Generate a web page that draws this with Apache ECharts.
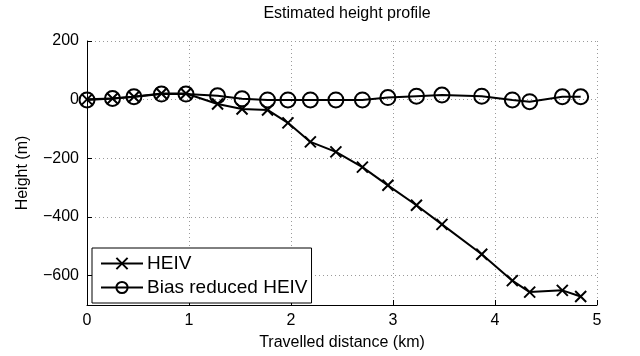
<!DOCTYPE html>
<html>
<head>
<meta charset="utf-8">
<script src="https://cdn.jsdelivr.net/npm/echarts@6/dist/echarts.min.js"></script>
<style>
  html, body { margin: 0; padding: 0; background: #fff; }
  #chart { width: 640px; height: 356px; }
</style>
</head>
<body>
<div id="chart"></div>
<script>
// travelled distance (km), shared by both estimates
const distance = [0, 0.25, 0.46, 0.73, 0.97, 1.28, 1.52, 1.77, 1.97, 2.19, 2.44, 2.70, 2.95, 3.23, 3.48, 3.87, 4.17, 4.34, 4.66, 4.84]
const heiv = [1, 4, 10, 21, 21, -15, -32, -35, -79, -144, -178, -230, -292, -360, -425, -527, -617, -656, -650, -671]
const biasReduced = [-1, 4, 10, 19, 19, 13, 3, -1, -1, -1, -1, -1, 7, 12, 16, 12, -1, -7, 10, 10]
const yTicks = [-600, -400, -200, 0, 200]
const xTicks = [0, 1, 2, 3, 4, 5]

const font = 'Liberation Sans, Arial, sans-serif'
const minus = v => String(v).replace('-', '\u2212')
const pairs = ys => distance.map((x, i) => [x, ys[i]])

const gridLine = { show: true, lineStyle: { color: '#9a9a9a', width: 1, type: [1, 3] } }

const commonSeries = {
  type: 'line',
  lineStyle: { color: '#000', width: 2 },
  itemStyle: { color: 'transparent', borderColor: '#000', borderWidth: 2 },
  emphasis: { disabled: true },
  animation: false,
}

const chart = echarts.init(document.getElementById('chart'))
chart.setOption({
  backgroundColor: '#fff',
  title: {
    text: 'Estimated height profile',
    left: 342,
    textAlign: 'center',
    top: 1,
    textStyle: { fontFamily: font, fontSize: 16, fontWeight: 'normal', color: '#000' },
  },
  grid: { left: 87, right: 43, top: 41, bottom: 51 },
  legend: {
    orient: 'vertical',
    left: 92,
    top: 248,
    itemWidth: 42,
    itemHeight: 14,
    itemGap: 5,
    padding: [6, 4, 6, 8],
    backgroundColor: '#fff',
    borderColor: '#000',
    borderWidth: 1,
    textStyle: { fontFamily: font, fontSize: 19, color: '#000', padding: [0, 0, 0, -1] },
    data: ['HEIV', 'Bias reduced HEIV'],
  },
  xAxis: {
    type: 'value',
    min: 0,
    max: 5,
    interval: 1,
    name: 'Travelled distance (km)',
    nameLocation: 'middle',
    nameGap: 30,
    nameTextStyle: { fontFamily: font, fontSize: 16, color: '#000' },
    axisLine: { show: true, onZero: false, lineStyle: { color: '#000', width: 1 } },
    axisTick: { show: true, inside: true, length: 5, lineStyle: { color: '#000' } },
    axisLabel: { fontFamily: font, fontSize: 16, color: '#000', margin: 8, customValues: xTicks },
    splitLine: gridLine,
  },
  yAxis: {
    type: 'value',
    min: -700,
    max: 200,
    name: 'Height (m)',
    nameLocation: 'middle',
    nameGap: 56,
    nameTextStyle: { fontFamily: font, fontSize: 16, color: '#000' },
    axisLine: { show: true, onZero: false, lineStyle: { color: '#000', width: 1 } },
    axisTick: { show: true, inside: true, length: 5, lineStyle: { color: '#000' }, customValues: yTicks },
    axisLabel: { fontFamily: font, fontSize: 16, color: '#000', margin: 8, customValues: yTicks, formatter: minus },
    splitLine: gridLine,
  },
  series: [
    {
      ...commonSeries,
      name: 'HEIV',
      symbol: 'path://M0 0L10 10M10 0L0 10',
      symbolSize: 11,
      data: pairs(heiv),
      z: 3,
    },
    {
      ...commonSeries,
      name: 'Bias reduced HEIV',
      symbol: 'circle',
      symbolSize: 15,
      data: pairs(biasReduced),
      z: 2,
    },
  ],
})
</script>
</body>
</html>
